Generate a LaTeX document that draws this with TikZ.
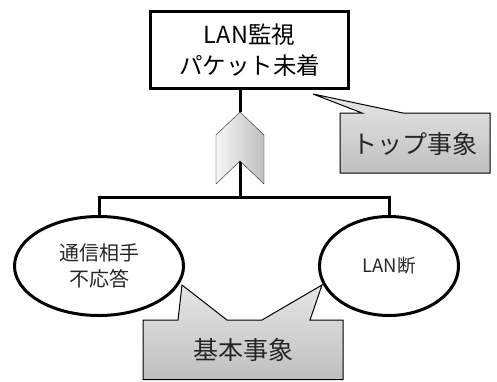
\documentclass[tikz,border=0pt]{standalone}
\usepackage{fontspec}
\setmainfont{Noto Sans CJK JP}
\usetikzlibrary{positioning,shapes.geometric}

\begin{document}
\begin{tikzpicture}[x=1pt,y=-1pt,
		event/.style={draw,line width=3pt,inner sep=0pt,align=center,
			minimum width=198pt,minimum height=77pt,font=\fontsize{23.5}{31}\selectfont},
		basic/.style={ellipse,draw,line width=3pt,inner sep=0pt,align=center,
			minimum height=99pt,text=black!85},
		link/.style={line width=3pt},
		gatefill/.style={draw=black!85,thin,left color=gray!8,right color=gray!50},
		note/.style={draw=black,line width=1pt,top color=gray!20,bottom color=gray!50},
		notetext/.style={text=black!85,font=\fontsize{25}{30}\selectfont}
	]
	\useasboundingbox (0,0) rectangle (497,381);

	% Top event
	\node[event] (top) at (249.5,50) {LAN監視\\パケット未着};

	% Basic events
	\node[basic,minimum width=169pt,font=\fontsize{20}{26}\selectfont] (peer) at (99,266) {通信相手\\不応答};
	\node[basic,minimum width=139pt,font=\fontsize{18.5}{22}\selectfont] (cut) at (389,266) {LAN断};

	% Gate
	\coordinate (gtop) at (240,112);
	\coordinate (gnotch) at (240,161);
	\coordinate (bar) at (240,197);

	\draw[link] (gtop |- top.south) -- (gtop);
	\draw[link] (gnotch) -- (bar);
	\draw[link] (peer.north) -- (peer.north |- bar) -- (cut.north |- bar) -- (cut.north);

	\draw[gatefill] (gtop) -- (264,135) -- (264,184) -- (gnotch) -- (216,184) -- (216,135) -- cycle;

	% Callouts
	\draw[note] (340,113) -- (362,113) -- (313,94) -- (403,113) -- (490,113)
		-- (490,173) -- (340,173) -- cycle;
	\node[notetext] (toplabel) at (415,144) {トップ事象};

	\draw[note] (143,320) -- (178,320) -- (182,285) -- (227,320) -- (262,320)
		-- (322,285) -- (310,320) -- (343,320) -- (343,379.5) -- (143,379.5) -- cycle;
	\node[notetext] (baselabel) at (243,350) {基本事象};

\end{tikzpicture}
\end{document}
